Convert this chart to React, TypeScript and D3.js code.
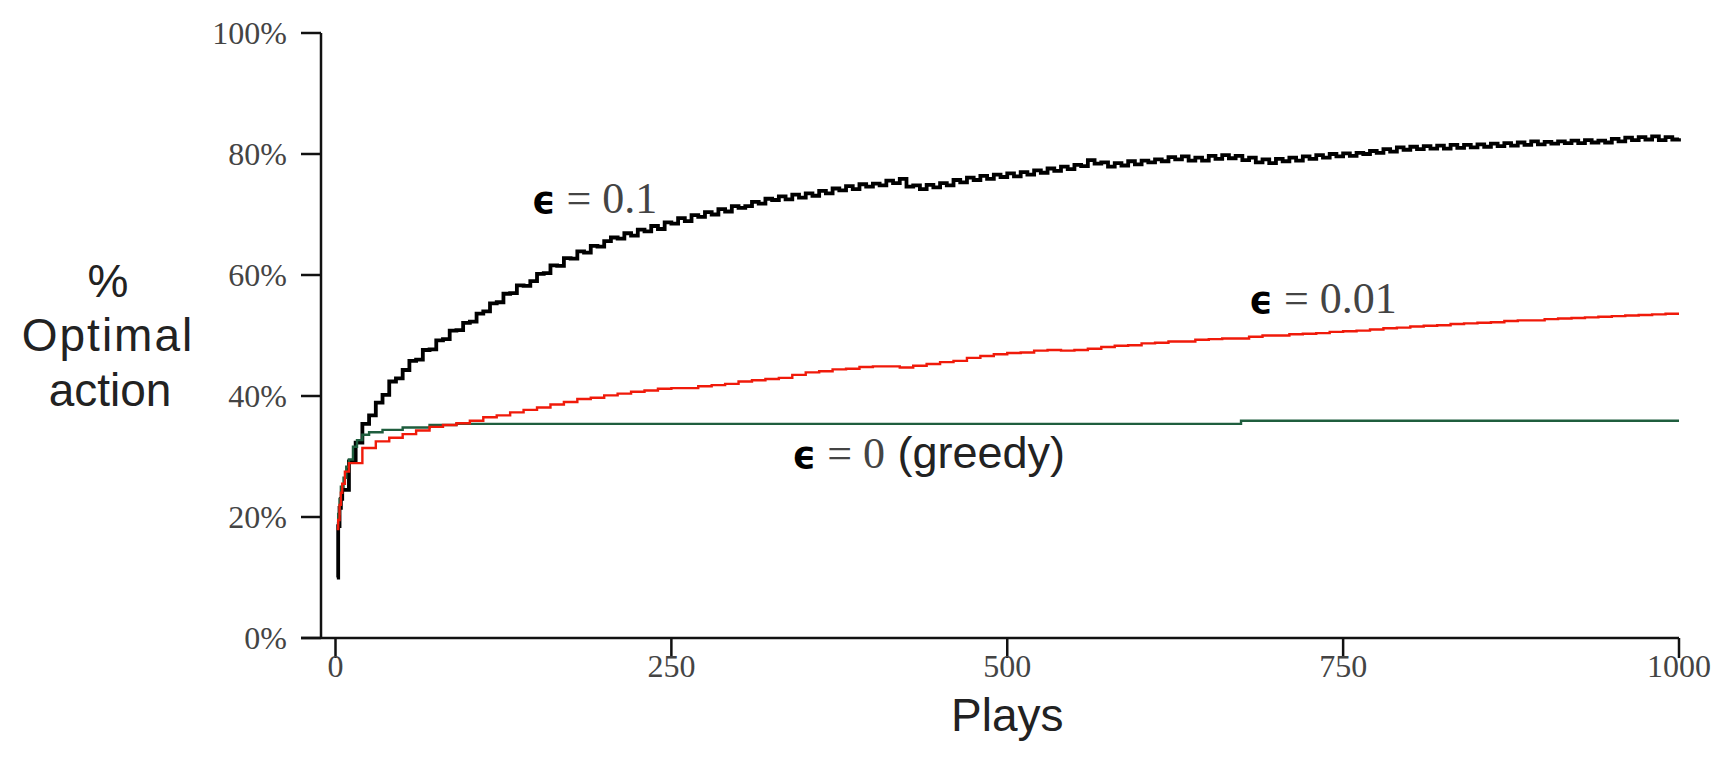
import React from "react";
import * as d3 from "d3";

// axis ticks
const yTicks = [0, 20, 40, 60, 80, 100];
const xTicks = [0, 250, 500, 750, 1000];

// epsilon = 0.1 (black), sampled every 5 plays after the first few
const blackPlays = [1, 2, 3, 4, ...d3.range(5, 1001, 5)];
const blackValues = [
  10, 18.5, 21.5, 23,
  24.5, 29.2, 32.3, 35.4, 36.8, 38.9, 40.2, 42.4, 42.9, 44.3, 45.8, 46.0, 47.6, 47.7, 49.2, 49.4, 50.8, 50.9, 52.1, 52.3,
  53.6, 54.0, 55.3, 55.5, 56.9, 57.0, 58.3, 58.2, 59.0, 60.2, 60.3, 61.6, 61.5, 62.8, 62.7, 63.9, 63.7, 64.8, 64.7, 65.6,
  66.2, 66.0, 66.9, 66.5, 67.5, 67.2, 68.1, 67.6, 68.7, 68.5, 69.4, 68.9, 69.9, 69.6, 70.4, 70.0, 70.9, 70.5, 71.4, 71.1,
  71.4, 72.1, 71.8, 72.6, 72.4, 73.0, 72.5, 73.3, 72.8, 73.5, 73.1, 73.9, 73.5, 74.3, 74.0, 74.7, 74.2, 75.0, 74.6, 75.1,
  74.8, 75.6, 75.2, 75.9, 74.6, 74.8, 74.2, 74.9, 74.5, 75.2, 74.8, 75.7, 75.3, 76.1, 75.7, 76.4, 75.9, 76.6, 76.2, 76.8,
  76.3, 77.0, 76.6, 77.3, 76.9, 77.6, 77.2, 77.9, 77.5, 78.2, 78.0, 79.0, 78.4, 78.6, 77.9, 78.5, 78.1, 78.8, 78.3, 78.9,
  78.6, 79.1, 78.8, 79.5, 79.1, 79.6, 78.9, 79.4, 78.9, 79.7, 79.2, 79.8, 79.3, 79.7, 79.0, 79.4, 78.6, 79.1, 78.5, 79.2,
  78.8, 79.4, 78.9, 79.6, 79.2, 79.8, 79.4, 80.0, 79.6, 80.1, 79.7, 80.2, 80.0, 80.5, 80.2, 80.8, 80.4, 81.1, 80.7, 81.2,
  80.8, 81.3, 80.9, 81.4, 80.9, 81.5, 81.0, 81.5, 81.1, 81.6, 81.2, 81.7, 81.3, 81.8, 81.4, 81.9, 81.5, 82.1, 81.6, 82.0,
  81.7, 82.1, 81.8, 82.2, 81.8, 82.3, 81.9, 82.2, 81.9, 82.5, 82.1, 82.7, 82.3, 82.8, 82.4, 82.9, 82.3, 82.8, 82.4, 82.6,
];

// epsilon = 0.01 (red), every 10 plays after the first few
const redPlays = [1, 2, 3, 4, 5, 7, ...d3.range(10, 1001, 10)];
const redValues = [
  18, 19.5, 22, 24, 25.5, 27.5,
  28.9, 31.4, 32.5, 33.1, 33.7, 34.3, 34.9, 35.2, 35.5, 35.9,
  36.5, 36.8, 37.3, 37.7, 38.1, 38.6, 39.0, 39.5, 39.7, 40.1,
  40.4, 40.7, 40.9, 41.2, 41.3, 41.3, 41.6, 41.8, 42.0, 42.4,
  42.6, 42.8, 43.0, 43.5, 43.9, 44.1, 44.4, 44.5, 44.8, 44.9,
  44.9, 44.7, 45.0, 45.3, 45.6, 45.8, 46.3, 46.6, 46.9, 47.1,
  47.2, 47.5, 47.6, 47.5, 47.6, 47.8, 48.1, 48.3, 48.4, 48.7,
  48.8, 49.0, 49.0, 49.3, 49.4, 49.5, 49.5, 49.8, 50.0, 50.0,
  50.2, 50.3, 50.4, 50.6, 50.7, 50.8, 51.0, 51.2, 51.3, 51.5,
  51.6, 51.7, 51.9, 52.0, 52.1, 52.2, 52.4, 52.5, 52.5, 52.7,
  52.8, 52.9, 53.0, 53.1, 53.2, 53.3, 53.4, 53.5, 53.6, 53.6,
];

// epsilon = 0 greedy (green)
const greenPlays = [1, 2, 3, 4, 6, 8, 10, 13, 16, 20, 25, 35, 50, 70, 90, 674, 1000];
const greenValues = [19, 20.5, 23, 25, 26.5, 28.3, 29.5, 31.6, 32.7, 33.6, 34.0, 34.4, 34.8, 35.2, 35.4, 35.9, 35.9];

// annotation labels, anchored in data coordinates
const labels = [
  { play: 146, pct: 70.2, value: "0.1", extra: "" },
  { play: 680, pct: 53.7, value: "0.01", extra: "" },
  { play: 340, pct: 28.1, value: "0", extra: "(greedy)" },
];

export default function App() {
  const x = d3.scaleLinear().domain([0, 1000]).range([335.5, 1679]);
  const y = d3.scaleLinear().domain([0, 100]).range([638, 33]);
  const axisX = 321;
  const tickLen = 20;

  const makeLine = (plays: number[], vals: number[]) =>
    d3
      .line<number>()
      .x((d, i) => x(plays[i]))
      .y((d) => y(d))
      .curve(d3.curveStepAfter)(vals) || "";

  const serif = "'Liberation Serif', 'DejaVu Serif', serif";
  const sans = "'Liberation Sans', Arial, sans-serif";

  return (
    <svg
      width={1719}
      height={772}
      style={{ position: "absolute", left: 0, top: 0, background: "#fff" }}
    >
      {/* y axis */}
      <line x1={axisX} x2={axisX} y1={y(100)} y2={y(0)} stroke="#111" strokeWidth={2.5} />
      {yTicks.map((t) => (
        <g key={"y" + t}>
          <line x1={axisX - tickLen} x2={axisX} y1={y(t)} y2={y(t)} stroke="#111" strokeWidth={2.5} />
          <text
            x={axisX - tickLen - 14}
            y={y(t)}
            dy="0.35em"
            textAnchor="end"
            fontFamily={serif}
            fontSize={32}
            fill="#444"
          >
            {t + "%"}
          </text>
        </g>
      ))}

      {/* x axis */}
      <line x1={axisX - tickLen} x2={x(1000)} y1={y(0)} y2={y(0)} stroke="#111" strokeWidth={2.5} />
      {xTicks.map((t) => (
        <g key={"x" + t}>
          <line x1={x(t)} x2={x(t)} y1={y(0)} y2={y(0) + tickLen} stroke="#111" strokeWidth={2.5} />
          <text
            x={x(t)}
            y={y(0) + 39}
            textAnchor="middle"
            fontFamily={serif}
            fontSize={32}
            fill="#444"
          >
            {t}
          </text>
        </g>
      ))}

      {/* axis titles */}
      <text x={(x(0) + x(1000)) / 2} y={731} textAnchor="middle" fontFamily={sans} fontSize={46} fill="#222">
        Plays
      </text>
      <text textAnchor="middle" fontFamily={sans} fontSize={46} fill="#222">
        <tspan x={108} y={297}>%</tspan>
        <tspan x={108} y={351} letterSpacing={2}>Optimal</tspan>
        <tspan x={110} y={406}>action</tspan>
      </text>

      {/* series */}
      <path d={makeLine(blackPlays, blackValues)} fill="none" stroke="#000" strokeWidth={3.8} />
      <path d={makeLine(greenPlays, greenValues)} fill="none" stroke="#1f5e3e" strokeWidth={2.4} />
      <path d={makeLine(redPlays, redValues)} fill="none" stroke="#f01a0a" strokeWidth={2.4} />

      {/* annotations */}
      {labels.map((l) => (
        <text key={l.value} x={x(l.play)} y={y(l.pct)} fontSize={44} fill="#444" fontFamily={serif}>
          <tspan fontFamily="'DejaVu Sans', sans-serif" fontWeight="bold" fill="#000" fontSize={37}>
            ϵ
          </tspan>
          <tspan> = {l.value}</tspan>
          {l.extra && (
            <tspan fontFamily={sans} fill="#222" fontSize={45}>
              {" " + l.extra}
            </tspan>
          )}
        </text>
      ))}
    </svg>
  );
}
